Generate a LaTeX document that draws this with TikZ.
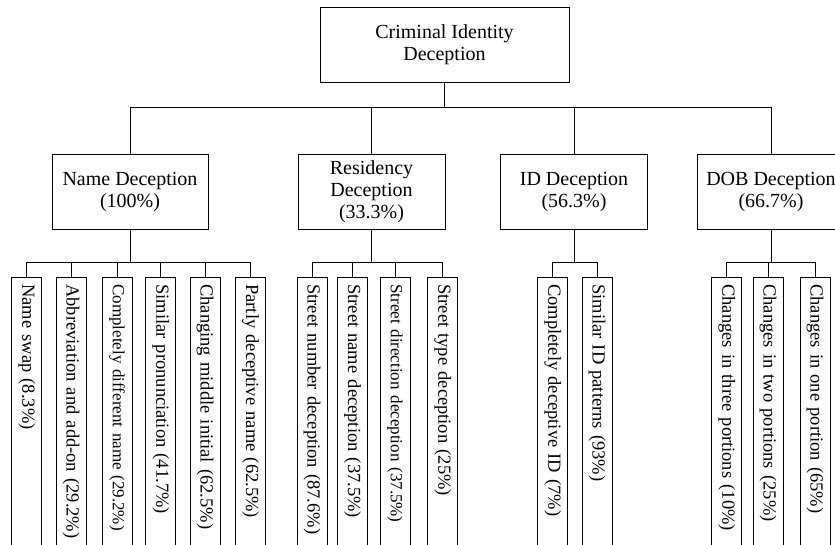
\documentclass[tikz,border=0pt]{standalone}
\usepackage{fontspec}
\setmainfont{Liberation Serif}
\usepackage{tikz}
\tikzset{
  catbox/.style={draw, line width=1pt, minimum width=147pt, minimum height=75pt,
    align=center, font=\fontsize{20}{22}\selectfont},
  leafbox/.style={draw, line width=1pt, rotate=-90, anchor=west, minimum height=30pt,
    inner xsep=7pt, text width=290pt, align=left, font=\fontsize{18.5}{20}\selectfont},
  smallleaf/.style={leafbox, font=\fontsize{17}{19}\selectfont},
  link/.style={line width=1pt}
}

\begin{document}
\begin{tikzpicture}[x=1pt,y=-1pt]
\useasboundingbox (0,0) rectangle (835,544);
\clip (0,0) rectangle (835,544);
% Root and categories
\node[catbox, minimum width=249pt] (root) at (444.5,45) {Criminal Identity\\Deception};
\node[catbox, minimum width=156pt] (name) at (130,191.7) {Name Deception\\(100\%)};
\node[catbox] (res) at (371.5,191.7) {Residency\\Deception\\(33.3\%)};
\node[catbox] (id) at (574,191.7) {ID Deception\\(56.3\%)};
\node[catbox] (dob) at (771,191.7) {DOB Deception\\(66.7\%)};
\draw[link] (root.south) -- ++(0,24) -| (name.north);
\draw[link] (root.south) -- ++(0,24) -| (res.north);
\draw[link] (root.south) -- ++(0,24) -| (id.north);
\draw[link] (root.south) -- ++(0,24) -| (dob.north);
% Name deception
\node[leafbox] (n1) at (26.7,276.7) {Name swap (8.3\%)};
\node[leafbox] (n2) at (71,276.7) {Abbreviation and add-on (29.2\%)};
\node[smallleaf] (n3) at (117,276.7) {Completely different name (29.2\%)};
\node[leafbox] (n4) at (160.7,276.7) {Similar pronunciation (41.7\%)};
\node[leafbox] (n5) at (205,276.7) {Changing middle initial (62.5\%)};
\node[leafbox] (n6) at (250.5,276.7) {Partly deceptive name (62.5\%)};
\draw[link] (name.south) -- ++(0,33) -| (n1.west);
\draw[link] (name.south) -- ++(0,33) -| (n2.west);
\draw[link] (name.south) -- ++(0,33) -| (n3.west);
\draw[link] (name.south) -- ++(0,33) -| (n4.west);
\draw[link] (name.south) -- ++(0,33) -| (n5.west);
\draw[link] (name.south) -- ++(0,33) -| (n6.west);
% Residency deception
\node[leafbox] (r1) at (312,276.7) {Street number deception (87.6\%)};
\node[leafbox] (r2) at (352.5,276.7) {Street name deception (37.5\%)};
\node[smallleaf] (r3) at (395,276.7) {Street direction deception (37.5\%)};
\node[leafbox] (r4) at (442.7,276.7) {Street type deception (25\%)};
\draw[link] (res.south) -- ++(0,33) -| (r1.west);
\draw[link] (res.south) -- ++(0,33) -| (r2.west);
\draw[link] (res.south) -- ++(0,33) -| (r3.west);
\draw[link] (res.south) -- ++(0,33) -| (r4.west);
% ID deception
\node[leafbox] (i1) at (552.7,276.7) {Completely deceptive ID (7\%)};
\node[leafbox] (i2) at (597,276.7) {Similar ID patterns (93\%)};
\draw[link] (id.south) -- ++(0,33) -| (i1.west);
\draw[link] (id.south) -- ++(0,33) -| (i2.west);
% DOB deception
\node[leafbox] (d1) at (726.7,276.7) {Changes in three portions (10\%)};
\node[leafbox] (d2) at (768,276.7) {Changes in two portions (25\%)};
\node[leafbox] (d3) at (815,276.7) {Changes in one portion (65\%)};
\draw[link] (dob.south) -- ++(0,33) -| (d1.west);
\draw[link] (dob.south) -- ++(0,33) -| (d2.west);
\draw[link] (dob.south) -- ++(0,33) -| (d3.west);
\end{tikzpicture}
\end{document}
